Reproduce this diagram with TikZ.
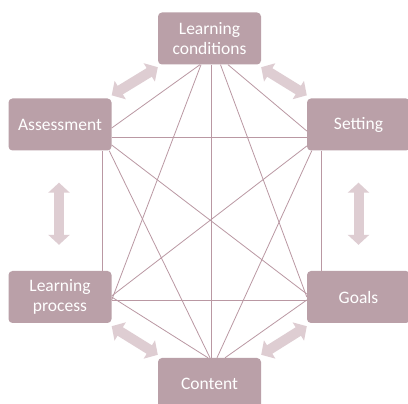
\documentclass[tikz,border=0pt]{standalone}
\usepackage{fontspec}
\setmainfont{Carlito}
\usetikzlibrary{arrows.meta}
\definecolor{boxc}{RGB}{186,160,168}
\definecolor{linec}{RGB}{186,152,163}
\definecolor{arrc}{RGB}{222,205,210}
\begin{document}
\begin{tikzpicture}[x=1pt,y=-1pt,
  box/.style={rectangle, rounded corners=4pt, fill=boxc, text=white, minimum width=103pt, minimum height=52pt, inner sep=0pt, align=center, font=\fontsize{17.5}{20.5}\selectfont},
  link/.style={draw=linec, line width=0.8pt},
  dbl/.style={draw=arrc, line width=10pt, {Triangle[width=21pt,length=10pt]}-{Triangle[width=21pt,length=10pt]}}]
\fill[white] (0,0) rectangle (408,404);
\useasboundingbox (0,0) rectangle (408,404);
\node[box] (LC) at (209.5,38.5) {Learning\\conditions};
\node[box] (A) at (60,124.5) {Assessment};
\node[box] (S) at (358.5,124.5) {Setting};
\node[box] (LP) at (60,297) {Learning\\process};
\node[box] (G) at (358.5,297) {Goals};
\node[box] (C) at (209.5,384) {Content};
% links
\draw[link] ([xshift=-9.5pt]LC.south) -- ([yshift=-3.5pt]A.east);
\draw[link] ([xshift=18.5pt]LC.south) -- ([yshift=-6.5pt]S.west);
\draw[link] ([yshift=-12.5pt]A.east) -- ([yshift=-12.5pt]S.west);
\draw[link] ([xshift=-8.5pt]LC.south) -- ([yshift=-3pt]LP.east);
\draw[link] ([xshift=1.5pt]LC.south) -- ([xshift=1.5pt]C.north);
\draw[link] ([xshift=11pt]LC.south) -- (G.west);
\draw[link] ([xshift=-9.5pt]A.south east) -- ([xshift=-9.5pt]LP.north east);
\draw[link] ([yshift=-20.5pt]A.east) -- ([yshift=3pt]G.west);
\draw[link] ([xshift=-2.5pt]A.south east) -- ([xshift=0.5pt]C.north);
\draw[link] ([yshift=-21.5pt]S.west) -- ([yshift=1pt]LP.east);
\draw[link] ([xshift=15pt]S.south west) -- ([xshift=15pt]G.north west);
\draw[link] ([xshift=5pt]S.south west) -- ([xshift=7.5pt]C.north);
\draw[link] ([yshift=-3pt]LP.east) -- ([yshift=-3pt]G.west);
\draw[link] (LP.east) -- ([xshift=-1.5pt]C.north);
\draw[link] ([yshift=-3pt]G.west) -- ([xshift=15.5pt]C.north);
% double arrows
\draw[dbl] ([yshift=3pt]A.north east) -- ([yshift=-2.5pt]LC.south west);
\draw[dbl] ([yshift=-2.5pt]LC.south east) -- ([yshift=3pt]S.north west);
\draw[dbl] ([xshift=-1pt,yshift=-32pt]A.south) -- ([xshift=-1pt,yshift=26pt]LP.north);
\draw[dbl] ([yshift=-32pt]S.south) -- ([yshift=26pt]G.north);
\draw[dbl] ([yshift=-3pt]LP.south east) -- ([yshift=3pt]C.north west);
\draw[dbl] ([yshift=-3pt]G.south west) -- ([yshift=3pt]C.north east);
\end{tikzpicture}
\end{document}
